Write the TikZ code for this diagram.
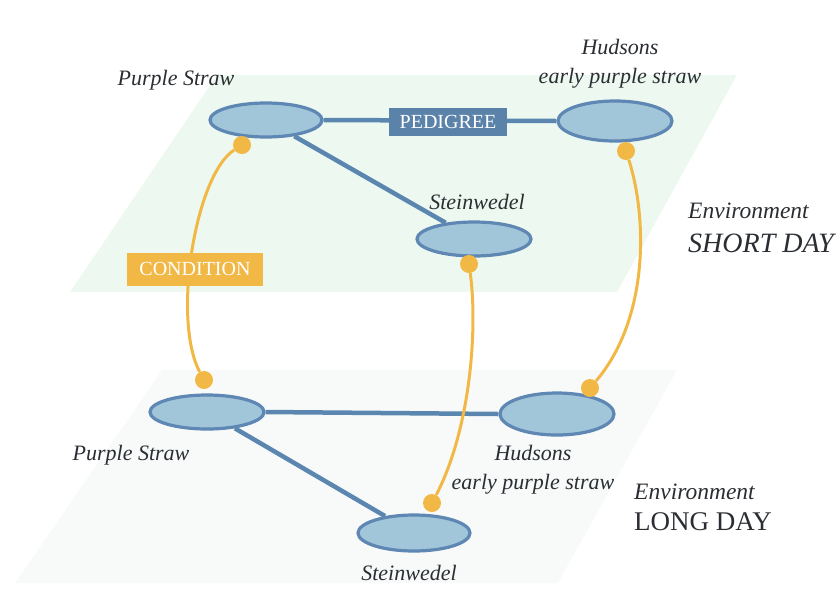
\documentclass[tikz,border=0pt]{standalone}
\usepackage{fontspec}
\setmainfont{Liberation Serif}
\usetikzlibrary{shapes.geometric}
\definecolor{planetopc}{HTML}{EDF9F0}
\definecolor{planebotc}{HTML}{F8FAFA}
\definecolor{ellfill}{HTML}{A1C5D9}
\definecolor{elldraw}{HTML}{5E87B3}
\definecolor{linkblue}{HTML}{5A86B0}
\definecolor{pedbox}{HTML}{5B83A9}
\definecolor{orangec}{HTML}{F2B845}
\definecolor{txt}{HTML}{2A2E33}
\pgfdeclarelayer{planes}
\pgfdeclarelayer{links}
\pgfsetlayers{planes,links,main}
\begin{document}
\begin{tikzpicture}[x=1pt,y=-1pt,
  variety/.style={ellipse, draw=elldraw, fill=ellfill, line width=3.2pt, inner sep=0pt},
  lbl/.style={text=txt, font=\fontsize{22}{29}\selectfont\itshape, inner sep=0pt, align=center},
  envlbl/.style={text=txt, font=\fontsize{23.5}{26}\selectfont\itshape, inner sep=0pt, anchor=west},
  bluelink/.style={draw=linkblue, line width=4.5pt},
  condlink/.style={draw=orangec, line width=3pt},
  dot/.style={circle, fill=orangec, minimum size=18pt, inner sep=0pt},
  tagbox/.style={text=white, font=\fontsize{20}{24}\selectfont, inner sep=0pt}
]
\useasboundingbox (0,0) rectangle (840,614);
\begin{pgfonlayer}{planes}
  \fill[planetopc] (217,75) -- (737,75) -- (617,292) -- (70,292) -- cycle;
  \fill[planebotc] (162,370) -- (677,370) -- (558,583) -- (15,583) -- cycle;
\end{pgfonlayer}

% varieties, short day
\node[variety, minimum width=112pt, minimum height=34pt] (ps1) at (266,120) {};
\node[variety, minimum width=114pt, minimum height=40pt] (hu1) at (615,121) {};
\node[variety, minimum width=114pt, minimum height=34pt] (st1) at (474,239) {};
% varieties, long day
\node[variety, minimum width=114pt, minimum height=34pt] (ps2) at (207,412) {};
\node[variety, minimum width=114pt, minimum height=42pt] (hu2) at (557,414) {};
\node[variety, minimum width=112pt, minimum height=36pt] (st2) at (414,533) {};

% pedigree links
\begin{pgfonlayer}{links}
  \draw[bluelink] (ps1.east) -- (hu1.west);
  \draw[bluelink] (ps1) -- (st1);
  \draw[bluelink] (ps2.east) -- (hu2.west);
  \draw[bluelink] (ps2) -- (st2);
\end{pgfonlayer}
\node[tagbox, fill=pedbox, minimum width=118pt, minimum height=28pt] (ped) at (448,122) {PEDIGREE};

% condition dots
\node[dot] (c1) at (242,145) {};
\node[dot] (c2) at (469,264) {};
\node[dot] (c3) at (626,151) {};
\node[dot] (c4) at (204,380) {};
\node[dot] (c5) at (432,503) {};
\node[dot] (c6) at (590,388) {};

\draw[condlink] (c1) .. controls (195,175) and (172,320) .. (c4);
\draw[condlink] (c2) .. controls (478,330) and (470,430) .. (c5);
\draw[condlink] (c3) .. controls (648,220) and (648,320) .. (c6);
\node[tagbox, fill=orangec, minimum width=136pt, minimum height=33pt] (cond) at (195,269) {CONDITION};

% labels
\node[lbl] (ps1l) at (176,80) {Purple Straw};
\node[lbl] (hu1l) at (620,64) {Hudsons\\early purple straw};
\node[lbl] (st1l) at (477,202) {Steinwedel};
\node[lbl] (ps2l) at (131,455) {Purple Straw};
\node[lbl] (hu2l) at (533,470) {Hudsons\\early purple straw};
\node[lbl] (st2l) at (409,573) {Steinwedel};

\node[envlbl] (env1) at (688,211) {Environment};
\node[envlbl, font=\fontsize{28}{30}\selectfont\itshape] (env1b) at (688,243) {SHORT DAY};
\node[envlbl] (env2) at (634,492) {Environment};
\node[envlbl, font=\fontsize{27}{30}\selectfont] (env2b) at (634,522) {LONG DAY};
\end{tikzpicture}
\end{document}
